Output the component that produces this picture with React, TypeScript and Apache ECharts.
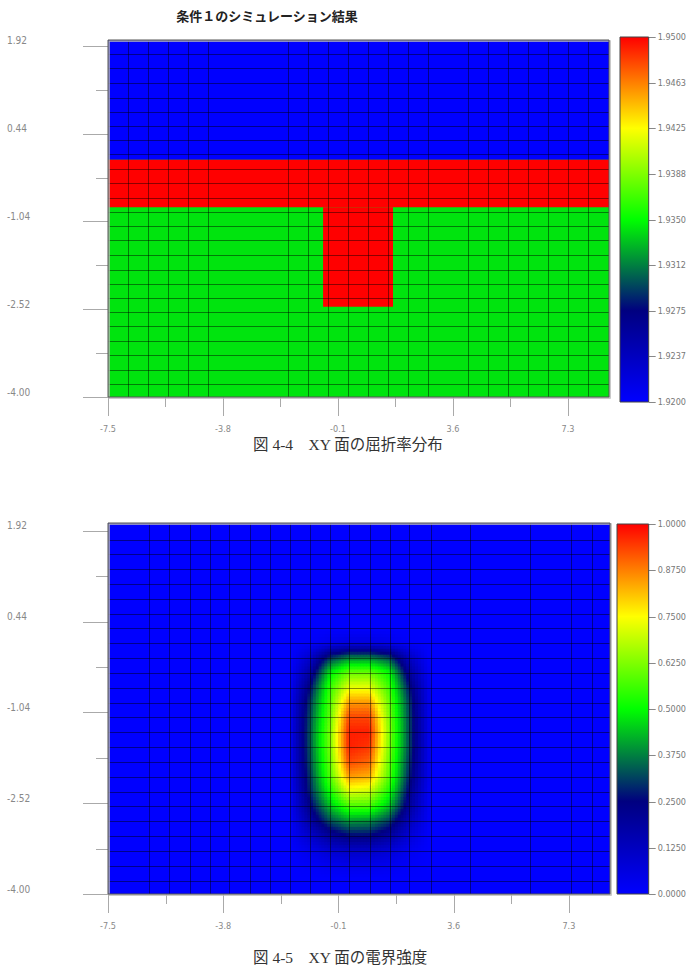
import React, { useEffect, useRef } from 'react';
import * as echarts from 'echarts';

// ---------- texts ----------
const chartTitle = '条件１のシミュレーション結果';
const caption1 = '図 4-4　XY 面の屈折率分布';
const caption2 = '図 4-5　XY 面の電界強度';

// ---------- axes ----------
const xRange = [-7.5, 8.62];
const yRangeTop = [-4.0, 2.02];
const yRangeBottom = [-4.0, 2.05];
const xMajorTicks = [-7.5, -3.8, -0.1, 3.6, 7.3];
const xMinorTicks = [-5.65, -1.95, 1.75, 5.45];
const yMajorTicks = [-4.0, -2.52, -1.04, 0.44, 1.92];
const yMinorTicks = [-3.26, -1.78, -0.3, 1.18];

// ---------- colour scales ----------
const indexRange = [1.92, 1.95];
const indexTicks = [1.92, 1.92375, 1.9275, 1.93125, 1.935, 1.93875, 1.9425, 1.94625, 1.95];
const indexTickLabels = ['1.9200', '1.9237', '1.9275', '1.9312', '1.9350', '1.9388', '1.9425', '1.9463', '1.9500'];
const fieldRange = [0, 1];
const fieldTicks = [0, 0.125, 0.25, 0.375, 0.5, 0.625, 0.75, 0.875, 1];
const fieldTickLabels = ['0.0000', '0.1250', '0.2500', '0.3750', '0.5000', '0.6250', '0.7500', '0.8750', '1.0000'];

// ---------- mesh (axis units) ----------
const meshXTop = [-6.86, -6.21, -5.57, -4.93, -4.28, -1.71, -1.07, -0.42, 0.22, 0.87, 1.51, 2.15, 2.8, 4.08, 4.73, 5.37, 6.01, 6.66, 7.3, 7.94];
const meshXBottom = [-6.18, -5.54, -4.86, -4.22, -3.61, -2.93, -2.29, -1.64, -1.0, -0.36, 0.25, 0.9, 1.54, 2.18, 2.86, 4.11, 6.04, 7.36, 8.04];
const meshY = [1.78, 1.54, 1.3, 1.05, 0.81, 0.57, 0.33, 0.09, -0.15, -0.39, -0.64, -0.88, -1.12, -1.36, -1.6, -1.85, -2.09, -2.33, -2.57, -2.81, -3.06, -3.3, -3.54, -3.78];

// ---------- refractive index regions (fig 4-4) ----------
const regionXMin = [-7.5, -7.5, -7.5, -0.58];
const regionXMax = [8.62, 8.62, 8.62, 1.67];
const regionYMin = [-4.0, 0.0, -0.8, -2.48];
const regionYMax = [2.02, 2.02, 0.0, -0.8];
const regionIndex = [1.9342, 1.92, 1.95, 1.95];

// ---------- field intensity (fig 4-5), node values ----------
const fieldBackground = 0;
const fieldX = [-1.64, -1.0, -0.36, 0.25, 0.9, 1.54, 2.18, 2.86];
const fieldY = [0.33, 0.09, -0.15, -0.39, -0.64, -0.88, -1.12, -1.36, -1.6, -1.85, -2.09, -2.33, -2.57, -2.81, -3.06, -3.3, -3.54, -3.78];
const fieldValues = [
  [0, 0, 0, 0, 0, 0, 0, 0],
  [0, 0.01, 0.04, 0.06, 0.06, 0.04, 0.01, 0],
  [0, 0.1, 0.3, 0.38, 0.38, 0.32, 0.12, 0],
  [0.01, 0.18, 0.48, 0.6, 0.6, 0.5, 0.2, 0.01],
  [0.02, 0.26, 0.55, 0.73, 0.73, 0.56, 0.27, 0.02],
  [0.03, 0.31, 0.58, 0.85, 0.85, 0.6, 0.31, 0.02],
  [0.03, 0.33, 0.6, 0.93, 0.93, 0.62, 0.32, 0.02],
  [0.03, 0.34, 0.62, 0.97, 0.97, 0.63, 0.32, 0.02],
  [0.03, 0.34, 0.62, 0.97, 0.95, 0.62, 0.32, 0.02],
  [0.03, 0.33, 0.6, 0.93, 0.9, 0.6, 0.3, 0.02],
  [0.03, 0.31, 0.58, 0.85, 0.83, 0.58, 0.28, 0.02],
  [0.02, 0.29, 0.52, 0.72, 0.7, 0.52, 0.24, 0.01],
  [0.02, 0.24, 0.44, 0.57, 0.57, 0.44, 0.2, 0.01],
  [0.01, 0.18, 0.33, 0.4, 0.39, 0.31, 0.14, 0.01],
  [0.01, 0.1, 0.2, 0.25, 0.25, 0.19, 0.08, 0],
  [0, 0.04, 0.09, 0.11, 0.11, 0.08, 0.03, 0],
  [0, 0.01, 0.03, 0.04, 0.04, 0.03, 0.01, 0],
  [0, 0, 0, 0, 0, 0, 0, 0],
];

// ---------- colour map ----------
const colorStops: [number, number[]][] = [
  [0, [0, 0, 255]],
  [0.25, [0, 0, 128]],
  [0.5, [0, 255, 0]],
  [0.75, [255, 255, 0]],
  [1, [255, 0, 0]],
];

function colorAt(t: number): string {
  const u = Math.max(0, Math.min(1, t));
  for (let i = 0; i < colorStops.length - 1; i++) {
    const [a, ca] = colorStops[i];
    const [b, cb] = colorStops[i + 1];
    if (u <= b) {
      const k = (u - a) / (b - a);
      const c = ca.map((v, j) => Math.round(v + (cb[j] - v) * k));
      return `rgb(${c[0]},${c[1]},${c[2]})`;
    }
  }
  const c = colorStops[colorStops.length - 1][1];
  return `rgb(${c[0]},${c[1]},${c[2]})`;
}

const LABEL_FONT = "'Liberation Sans Narrow', 'DejaVu Sans Condensed', 'Liberation Sans', sans-serif";
const CAPTION_FONT = "'Liberation Serif', 'Noto Sans CJK JP', serif";
const TICK_COLOR = '#aaa';

export default function App() {
  const ref = useRef<HTMLDivElement>(null);

  useEffect(() => {
    if (!ref.current) return;
    const chart = echarts.init(ref.current, null, { renderer: 'svg' });

    const regionRender = (lo: number, hi: number) => (params: any, api: any) => {
      const x0 = api.value(0), x1 = api.value(1), y0 = api.value(2), y1 = api.value(3), v = api.value(4);
      const a = api.coord([x0, y1]);
      const b = api.coord([x1, y0]);
      return {
        type: 'rect',
        shape: { x: a[0], y: a[1], width: b[0] - a[0], height: b[1] - a[1] },
        style: { fill: colorAt((v - lo) / (hi - lo)), stroke: null },
      };
    };

    const cellRender = (params: any, api: any) => {
      const x0 = api.value(0), x1 = api.value(1), y0 = api.value(2), y1 = api.value(3);
      const v00 = api.value(4), v10 = api.value(5), v01 = api.value(6), v11 = api.value(7);
      const a = api.coord([x0, y0]);
      const b = api.coord([x1, y1]);
      const nx = 7, ny = 5;
      const w = (b[0] - a[0]) / nx;
      const h = (b[1] - a[1]) / ny;
      const children: any[] = [];
      for (let i = 0; i < nx; i++) {
        for (let j = 0; j < ny; j++) {
          const s = (i + 0.5) / nx;
          const t = (j + 0.5) / ny;
          const v = v00 * (1 - s) * (1 - t) + v10 * s * (1 - t) + v01 * (1 - s) * t + v11 * s * t;
          const px = a[0] + w * i;
          const py = a[1] + h * j;
          children.push({
            type: 'rect',
            shape: {
              x: Math.min(px, px + w) - 0.3,
              y: Math.min(py, py + h) - 0.3,
              width: Math.abs(w) + 0.6,
              height: Math.abs(h) + 0.6,
            },
            style: { fill: colorAt(v), stroke: null },
          });
        }
      }
      return { type: 'group', children };
    };

    const vLineRender = (params: any, api: any) => {
      const cs = params.coordSys;
      const p = api.coord([api.value(0), api.value(1)]);
      const x = Math.round(p[0]) + 0.5;
      return {
        type: 'line',
        shape: { x1: x, y1: cs.y, x2: x, y2: cs.y + cs.height },
        style: { stroke: 'rgba(0,0,0,0.45)', lineWidth: 1 },
      };
    };
    const hLineRender = (params: any, api: any) => {
      const cs = params.coordSys;
      const p = api.coord([api.value(0), api.value(1)]);
      const y = Math.round(p[1]) + 0.5;
      return {
        type: 'line',
        shape: { x1: cs.x, y1: y, x2: cs.x + cs.width, y2: y },
        style: { stroke: 'rgba(0,0,0,0.45)', lineWidth: 1 },
      };
    };
    const xTickRender = (params: any, api: any) => {
      const cs = params.coordSys;
      const p = api.coord([api.value(0), api.value(1)]);
      const x = Math.round(p[0]) + 0.5;
      const y0 = cs.y + cs.height;
      return {
        type: 'line',
        shape: { x1: x, y1: y0, x2: x, y2: y0 + api.value(2) },
        style: { stroke: TICK_COLOR, lineWidth: 1 },
      };
    };
    const yTickRender = (params: any, api: any) => {
      const cs = params.coordSys;
      const p = api.coord([api.value(0), api.value(1)]);
      const y = Math.round(p[1]) + 0.5;
      return {
        type: 'line',
        shape: { x1: cs.x - api.value(2), y1: y, x2: cs.x, y2: y },
        style: { stroke: TICK_COLOR, lineWidth: 1 },
      };
    };
    const barTickRender = (params: any, api: any) => {
      const cs = params.coordSys;
      const p = api.coord([api.value(0), api.value(1)]);
      const y = Math.round(p[1]) + 0.5;
      const x0 = cs.x + cs.width;
      return {
        type: 'line',
        shape: { x1: x0, y1: y, x2: x0 + 7, y2: y },
        style: { stroke: '#888', lineWidth: 1 },
      };
    };
    const frameRender = (params: any) => {
      const cs = params.coordSys;
      return {
        type: 'group',
        children: [
          {
            type: 'rect',
            shape: { x: cs.x + 1, y: cs.y + 1, width: cs.width, height: cs.height },
            style: { fill: 'none', stroke: '#b8b8b8', lineWidth: 1.5 },
          },
          {
            type: 'rect',
            shape: { x: cs.x, y: cs.y, width: cs.width, height: cs.height },
            style: { fill: 'none', stroke: '#555', lineWidth: 1 },
          },
        ],
      };
    };
    const colorbarRender = (lo: number, hi: number) => (params: any, api: any) => {
      const a = api.coord([0, hi]);
      const b = api.coord([1, lo]);
      const stops = colorStops.map(([o, c]) => ({ offset: 1 - o, color: `rgb(${c[0]},${c[1]},${c[2]})` })).reverse();
      return {
        type: 'rect',
        shape: { x: a[0], y: a[1], width: b[0] - a[0], height: b[1] - a[1] },
        style: {
          fill: new echarts.graphic.LinearGradient(0, 0, 0, 1, stops),
          stroke: '#444',
          lineWidth: 1,
        },
      };
    };

    const mainX = (gridIndex: number) => ({
      type: 'value', gridIndex, min: xRange[0], max: xRange[1], position: 'bottom',
      axisLine: { show: false }, splitLine: { show: false }, axisTick: { show: false },
      axisLabel: {
        show: true, customValues: xMajorTicks, margin: 27, fontSize: 9, color: '#888', fontFamily: LABEL_FONT,
        formatter: (v: number) => v.toFixed(1),
      },
    });
    const mainY = (gridIndex: number, range: number[]) => ({
      type: 'value', gridIndex, min: range[0], max: range[1], position: 'left',
      axisLine: { show: false }, splitLine: { show: false }, axisTick: { show: false },
      axisLabel: {
        show: true, customValues: yMajorTicks, margin: 101, align: 'left', verticalAlign: 'bottom',
        fontSize: 10, color: '#888', fontFamily: LABEL_FONT,
        formatter: (v: number) => v.toFixed(2),
      },
    });
    const hiddenX = (gridIndex: number) => ({ type: 'value', gridIndex, min: 0, max: 1, show: false });
    const barY = (gridIndex: number, range: number[], ticks: number[], labels: string[]) => ({
      type: 'value', gridIndex, min: range[0], max: range[1], position: 'right',
      axisLine: { show: false }, splitLine: { show: false }, axisTick: { show: false },
      axisLabel: {
        show: true, customValues: ticks, margin: 9, fontSize: 9, color: '#777', fontFamily: LABEL_FONT,
        formatter: (v: number) => {
          let best = 0;
          ticks.forEach((t, i) => { if (Math.abs(t - v) < Math.abs(ticks[best] - v)) best = i; });
          return labels[best];
        },
      },
    });

    const regionData = regionIndex.map((v, i) => [regionXMin[i], regionXMax[i], regionYMin[i], regionYMax[i], v]);
    const cellData: number[][] = [];
    for (let j = 0; j < fieldY.length - 1; j++) {
      for (let i = 0; i < fieldX.length - 1; i++) {
        cellData.push([
          fieldX[i], fieldX[i + 1], fieldY[j], fieldY[j + 1],
          fieldValues[j][i], fieldValues[j][i + 1], fieldValues[j + 1][i], fieldValues[j + 1][i + 1],
        ]);
      }
    }

    const tickSeries = (xi: number, yi: number, yMin: number) => [
      { type: 'custom', xAxisIndex: xi, yAxisIndex: yi, renderItem: xTickRender, clip: false, z: 1,
        data: [...xMajorTicks.map((v) => [v, yMin, 19]), ...xMinorTicks.map((v) => [v, yMin, 10])] },
      { type: 'custom', xAxisIndex: xi, yAxisIndex: yi, renderItem: yTickRender, clip: false, z: 1,
        data: [...yMajorTicks.map((v) => [xRange[0], v, 25]), ...yMinorTicks.map((v) => [xRange[0], v, 12])] },
    ];

    const option: any = {
      animation: false,
      backgroundColor: '#fff',
      grid: [
        { left: 108, top: 40, width: 501, height: 357 },
        { left: 620, top: 37, width: 32, height: 365 },
        { left: 108, top: 523, width: 502, height: 371 },
        { left: 617, top: 524, width: 35, height: 370 },
      ],
      xAxis: [mainX(0), hiddenX(1), mainX(2), hiddenX(3)],
      yAxis: [
        mainY(0, yRangeTop),
        barY(1, indexRange, indexTicks, indexTickLabels),
        mainY(2, yRangeBottom),
        barY(3, fieldRange, fieldTicks, fieldTickLabels),
      ],
      series: [
        // fig 4-4
        { type: 'custom', xAxisIndex: 0, yAxisIndex: 0, renderItem: regionRender(indexRange[0], indexRange[1]), data: regionData, z: 2 },
        { type: 'custom', xAxisIndex: 0, yAxisIndex: 0, renderItem: vLineRender, data: meshXTop.map((v) => [v, yRangeTop[0]]), z: 3 },
        { type: 'custom', xAxisIndex: 0, yAxisIndex: 0, renderItem: hLineRender, data: meshY.map((v) => [xRange[0], v]), z: 3 },
        { type: 'custom', xAxisIndex: 0, yAxisIndex: 0, renderItem: frameRender, data: [[xRange[0], yRangeTop[0]]], z: 4 },
        ...tickSeries(0, 0, yRangeTop[0]),
        { type: 'custom', xAxisIndex: 1, yAxisIndex: 1, renderItem: colorbarRender(indexRange[0], indexRange[1]), data: [[0, indexRange[0]]], z: 2 },
        { type: 'custom', xAxisIndex: 1, yAxisIndex: 1, renderItem: barTickRender, clip: false, data: indexTicks.map((v) => [1, v]), z: 1 },
        // fig 4-5
        {
          type: 'custom', xAxisIndex: 2, yAxisIndex: 2, renderItem: regionRender(fieldRange[0], fieldRange[1]),
          data: [[xRange[0], xRange[1], yRangeBottom[0], yRangeBottom[1], fieldBackground]], z: 1,
        },
        { type: 'custom', xAxisIndex: 2, yAxisIndex: 2, renderItem: cellRender, data: cellData, z: 2 },
        { type: 'custom', xAxisIndex: 2, yAxisIndex: 2, renderItem: vLineRender, data: meshXBottom.map((v) => [v, yRangeBottom[0]]), z: 3 },
        { type: 'custom', xAxisIndex: 2, yAxisIndex: 2, renderItem: hLineRender, data: meshY.map((v) => [xRange[0], v]), z: 3 },
        { type: 'custom', xAxisIndex: 2, yAxisIndex: 2, renderItem: frameRender, data: [[xRange[0], yRangeBottom[0]]], z: 4 },
        ...tickSeries(2, 2, yRangeBottom[0]),
        { type: 'custom', xAxisIndex: 3, yAxisIndex: 3, renderItem: colorbarRender(fieldRange[0], fieldRange[1]), data: [[0, fieldRange[0]]], z: 2 },
        { type: 'custom', xAxisIndex: 3, yAxisIndex: 3, renderItem: barTickRender, clip: false, data: fieldTicks.map((v) => [1, v]), z: 1 },
      ],
      graphic: [
        {
          type: 'text', x: 267, y: 15,
          style: {
            text: chartTitle, textAlign: 'center', textVerticalAlign: 'middle',
            font: "bold 13px 'Noto Sans CJK JP', sans-serif", fill: '#222',
          },
        },
        {
          type: 'text', x: 253, y: 444,
          style: { text: caption1, textAlign: 'left', textVerticalAlign: 'middle', font: `15.5px ${CAPTION_FONT}`, fill: '#333' },
        },
        {
          type: 'text', x: 253, y: 957,
          style: { text: caption2, textAlign: 'left', textVerticalAlign: 'middle', font: `15.5px ${CAPTION_FONT}`, fill: '#333' },
        },
      ],
    };

    chart.setOption(option);
    return () => chart.dispose();
  }, []);

  return (
    <div
      ref={ref}
      style={{ position: 'fixed', left: 0, top: 0, width: 689, height: 969, background: '#fff' }}
    />
  );
}
